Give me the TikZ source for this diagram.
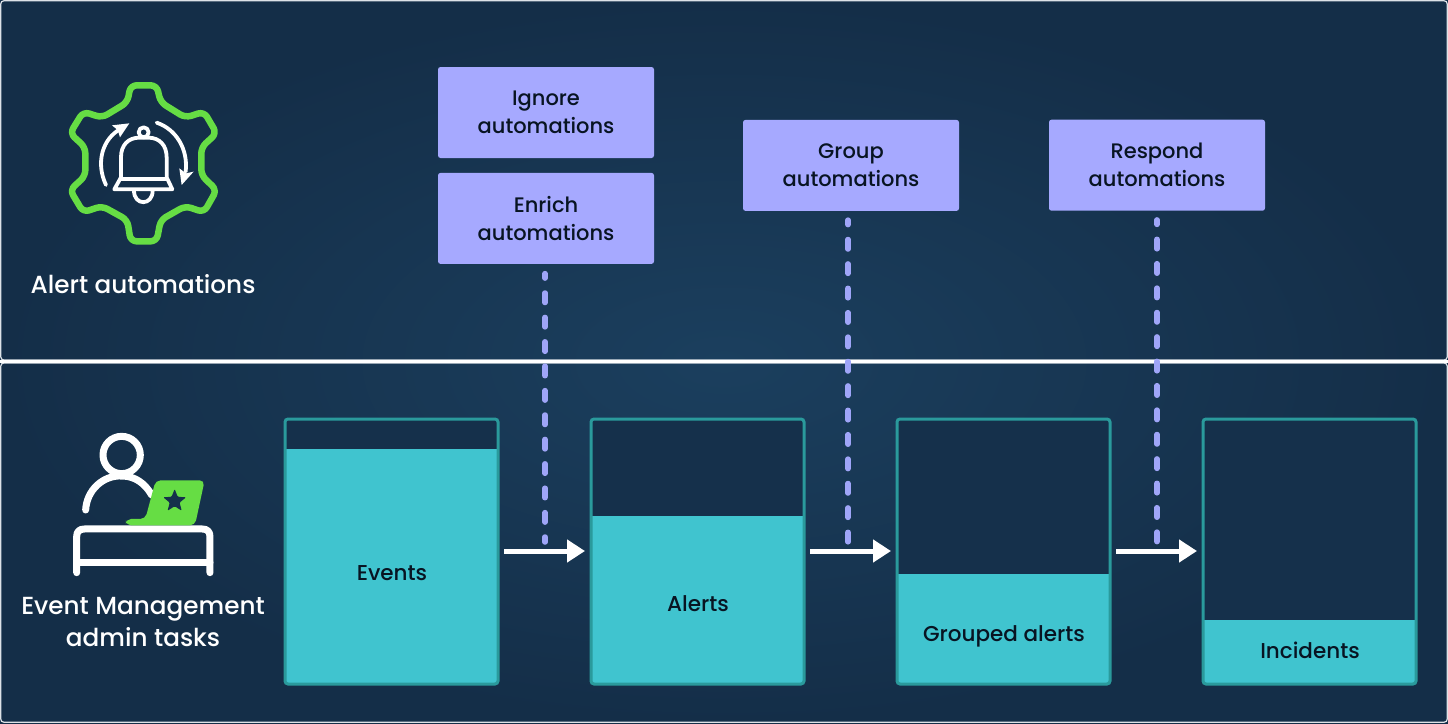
\documentclass[tikz,border=0pt]{standalone}
\usepackage{fontspec}
\setmainfont{Poppins Medium}
\usetikzlibrary{arrows.meta,shapes.geometric}
\definecolor{bgedge}{HTML}{142E48}
\definecolor{bgmid}{HTML}{1B3F5E}
\definecolor{green1}{HTML}{66DD44}
\definecolor{lav}{HTML}{A6A9FF}
\definecolor{lavdash}{HTML}{9FA5F8}
\definecolor{tealfill}{HTML}{40C4CF}
\definecolor{tealline}{HTML}{2A9A9C}
\definecolor{ink}{HTML}{081422}
\definecolor{navy}{HTML}{15304B}
\tikzset{
  purplebox/.style={fill=lav,rounded corners=2.5pt,minimum width=216pt,minimum height=91pt,inner sep=0pt,align=center,text=ink,font=\fontsize{21}{28}\selectfont},
  barframe/.style={draw=tealline,line width=3pt,rounded corners=3pt,minimum width=213pt,minimum height=265pt,inner sep=0pt,outer sep=0pt},
  barfill/.style={fill=tealfill},
  barlabel/.style={text=ink,font=\fontsize{21.5}{28}\selectfont,inner sep=0pt},
  sidelabel/.style={text=white,align=center,font=\fontsize{24.7}{32}\selectfont,inner sep=0pt},
  dashlink/.style={draw=lavdash,line width=5.5pt,line cap=round,dash pattern=on 9.5pt off 14.9pt,dash phase=5pt},
  flow/.style={draw=white,line width=5pt,-{Triangle[length=18pt,width=22pt]}},
  icon/.style={draw=white,line width=3.8pt,line cap=round,line join=round},
  iconb/.style={draw=white,line width=7pt,line cap=round,line join=round},
  panel/.style={draw=white!85!bgmid,line width=1.2pt,rounded corners=3pt}
}
\begin{document}
\begin{tikzpicture}[x=1pt,y=-1pt]
\useasboundingbox (0,0) rectangle (1448,723);
\fill[bgedge] (0,0) rectangle (1448,723);
\shade[inner color=bgmid,outer color=bgedge,shading=radial] (0,0) rectangle (1448,723);
\path[panel] (0.8,0.8) rectangle (1447.2,360);
\path[panel] (0.8,363) rectangle (1447.2,722.2);
\draw[white,line width=2.5pt] (0,361.5) -- (1448,361.5);
\foreach \n/\xa/\top in {a/285/449,b/591/516,c/897/574,d/1203/620}{
  \fill[navy] (\xa,419) rectangle +(213,265);
  \fill[barfill] (\xa,\top) rectangle (\xa+213,684);
}
\node[barframe,anchor=north west] (events) at (285,419) {};
\node[barframe,anchor=north west] (alerts) at (591,419) {};
\node[barframe,anchor=north west] (grouped) at (897,419) {};
\node[barframe,anchor=north west] (incidents) at (1203,419) {};
\node[barlabel] (eventsT) at (392,573) {Events};
\node[barlabel] (alertsT) at (698,604) {Alerts};
\node[barlabel] (groupedT) at (1004,636) {Grouped alerts};
\node[barlabel] (incidentsT) at (1310,650) {Incidents};
\node[purplebox] (ignore) at (546,112.5) {Ignore\\automations};
\node[purplebox] (enrich) at (546,218.4) {Enrich\\automations};
\node[purplebox] (group) at (851,165.4) {Group\\automations};
\node[purplebox] (respond) at (1157,165.2) {Respond\\automations};
\coordinate (e1) at (545,542);
\coordinate (e2) at (848,542);
\coordinate (e3) at (1157,542);
\draw[dashlink] (enrich.south -| e1) ++(0,9.5) -- (e1);
\draw[dashlink] (group.south -| e2) ++(0,9) -- (e2);
\draw[dashlink] (respond.south -| e3) ++(0,9) -- (e3);
\draw[flow] (events.east |- 0,551) ++(6,0) -- ++(81,0) coordinate (f1);
\draw[flow] (alerts.east |- 0,551) ++(6,0) -- ++(81,0) coordinate (f2);
\draw[flow] (grouped.east |- 0,551) ++(6,0) -- ++(81,0) coordinate (f3);
\begin{scope}[shift={(40,70)},x=0.3333pt,y=-0.3333pt]
\draw[green1,line width=6.5pt,line join=round,rounded corners=6pt]
 (262,97) -- (272,46) -- (350,46) -- (362,97) -- (436,143) -- (492,125) -- (530,190)
 -- (484,232) -- (484,316) -- (530,360) -- (492,427) -- (436,408) -- (362,450)
 -- (350,514) -- (272,514) -- (262,450) -- (186,408) -- (130,427) -- (90,360)
 -- (136,318) -- (136,232) -- (90,190) -- (130,125) -- (186,143) -- cycle;
\draw[icon] (223,358) -- (397,358) -- (380,322) -- (380,262) .. controls (380,225) and (358,203) .. (325,203) -- (298,203) .. controls (265,203) and (243,225) .. (243,262) -- (243,322) -- cycle;
\draw[icon] (243,326) -- (380,326);
\draw[icon] (311,187) circle (15);
\draw[icon] (282,362) .. controls (282,408) and (338,408) .. (338,362);
\draw[draw=white,line width=3.8pt,line cap=round] (198,345) .. controls (165,275) and (190,205) .. (240,178);
\fill[white] (268,160) -- (216,166) -- (233,180) -- (240,202) -- cycle;
\draw[draw=white,line width=3.8pt,line cap=round] (350,158) .. controls (410,178) and (445,240) .. (437,305);
\fill[white] (425,345) -- (461,305) -- (438,310) -- (418,295) -- cycle;
\end{scope}
\begin{scope}[shift={(40,420)},x=0.3333pt,y=-0.3333pt]
\draw[iconb] (245,105) circle (56);
\draw[iconb] (137,270) .. controls (140,210) and (190,165) .. (245,168) .. controls (285,168) and (315,190) .. (335,225);
\draw[iconb] (110,458) -- (110,350) .. controls (110,335) and (118,327) .. (133,327) -- (487,327) .. controls (502,327) and (510,335) .. (510,350) -- (510,458);
\draw[iconb] (110,428) -- (510,428);
\fill[green1,rounded corners=5pt] (347,181) -- (494,181) -- (465,316) -- (258,316) -- (258,297) -- (316,297) -- cycle;
\node[star,star points=5,star point ratio=2.3,fill=navy,minimum size=24pt,inner sep=0pt,rounded corners=1pt] (starshape) at (404,243) {};
\end{scope}
\node[sidelabel] (alertauto) at (143,284) {Alert automations};
\node[sidelabel] (admin) at (143,622) {Event Management\\admin tasks};
\end{tikzpicture}
\end{document}
